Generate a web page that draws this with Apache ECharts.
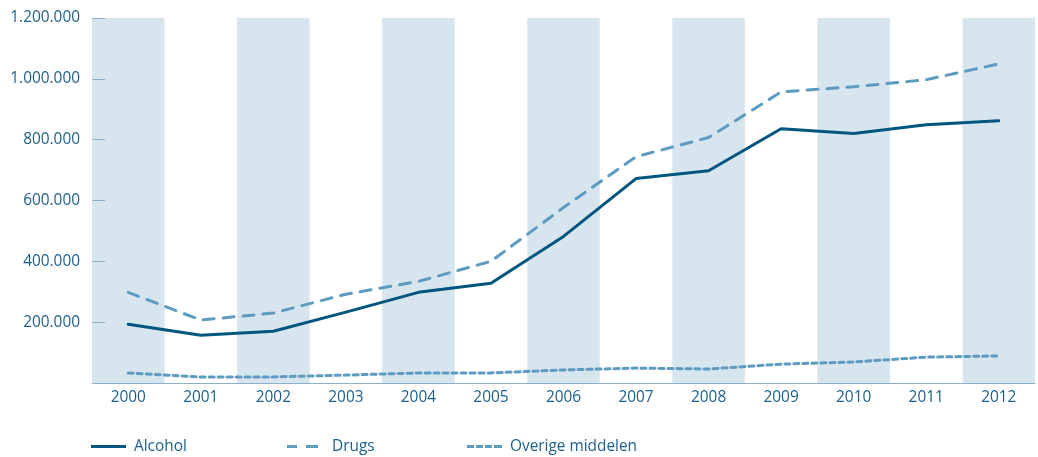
<!DOCTYPE html>
<html><head><meta charset="utf-8">
<script src="https://cdn.jsdelivr.net/npm/echarts@6/dist/echarts.min.js"></script>
<style>html,body{margin:0;padding:0;background:#fff}#c{width:1038px;height:457px}</style>
</head><body><div id="c"></div>
<script>
const categories = ['2000','2001','2002','2003','2004','2005','2006','2007','2008','2009','2010','2011','2012'];
const alcohol = [193000,157000,170000,233000,298000,328000,482000,672000,698000,836000,820000,849000,862000];
const drugs = [298000,207000,230000,292000,334000,400000,577000,744000,807000,957000,974000,997000,1049000];
const overige = [33000,20000,20000,26000,33000,33000,43000,49000,46000,62000,69000,85000,89000];
const yTicks = [0,200000,400000,600000,800000,1000000,1200000];

const labelColor = '#1d5f8a';
const axisColor = '#8cb0ca';
const fmt = v => v === 0 ? '' : String(v).replace(/\B(?=(\d{3})+(?!\d))/g, '.');
const chart = echarts.init(document.getElementById('c'));
const font = '"Open Sans", Lato, sans-serif';
const fs = 15.4;
function leg(name, left, w, icon, pad){
  return {data:[{name:name, icon:icon}], left:left, top:439, padding:0, itemWidth:w, itemHeight:3, itemGap:8,
    textStyle:{color:labelColor, fontSize:fs, fontFamily:font, padding:[0,0,0,pad]}, selectedMode:false};
}
chart.setOption({
  animation:false,
  grid:{left:92, right:3, top:18, bottom:74},
  legend:[
    leg('Alcohol',91,35,'path://M0,0H35V3H0Z',3),
    leg('Drugs',287,31,'path://M0,0H10V3H0Z M19,0H31V3H19Z',9),
    leg('Overige middelen',467,35,'path://M0,0H7V3H0Z M9,0H16V3H9Z M18,0H25V3H18Z M27,0H35V3H27Z',3)
  ],
  xAxis:{type:'category', data:categories, boundaryGap:true,
    axisLine:{lineStyle:{color:axisColor, width:1}},
    axisTick:{inside:true, length:6, lineStyle:{color:axisColor}},
    axisLabel:{color:labelColor, fontSize:fs, fontFamily:font, margin:7},
    splitArea:{show:true, areaStyle:{color:['#d7e5ef','rgba(255,255,255,0)']}}
  },
  yAxis:{type:'value', min:yTicks[0], max:yTicks[yTicks.length-1], interval:yTicks[1]-yTicks[0],
    axisLine:{show:false},
    axisTick:{show:true, inside:true, length:13, lineStyle:{color:axisColor}},
    splitLine:{show:false},
    axisLabel:{color:labelColor, fontSize:fs, fontFamily:font, margin:12, formatter:fmt}
  },
  series:[
    {name:'Alcohol', type:'line', data:alcohol, symbol:'none', color:'#00567f',
      lineStyle:{width:3, color:'#00567f', cap:'round'}},
    {name:'Drugs', type:'line', data:drugs, symbol:'none', color:'#5d9bc1',
      lineStyle:{width:3, color:'#5d9bc1', type:[11,9], cap:'round'}},
    {name:'Overige middelen', type:'line', data:overige, symbol:'none', color:'#5d9bc1',
      lineStyle:{width:3, color:'#5d9bc1', type:[5,4], cap:'round'}}
  ]
});
</script></body></html>
